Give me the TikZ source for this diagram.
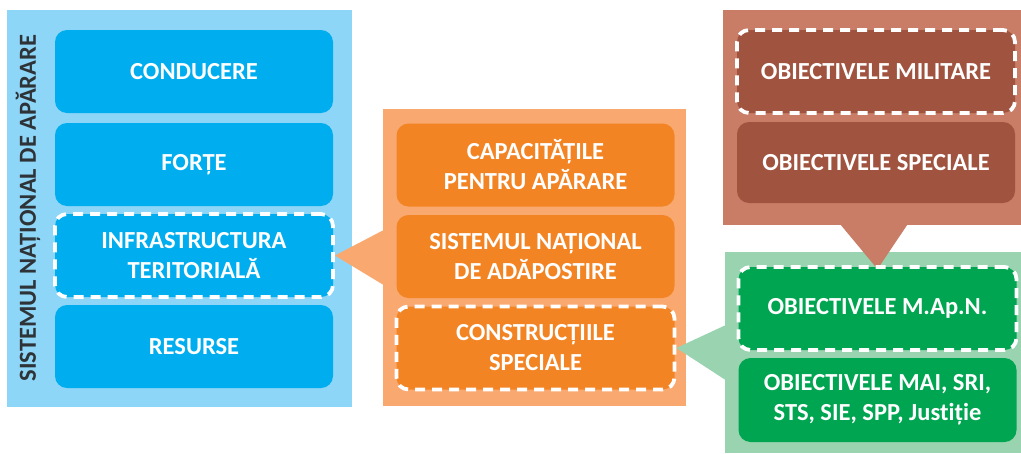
\documentclass[tikz,border=0pt]{standalone}
\usepackage{fontspec}
\setmainfont[Ligatures=NoCommon]{Carlito}
\usetikzlibrary{backgrounds}
\definecolor{bluepanel}{HTML}{8ED6F7}
\definecolor{bluebox}{HTML}{00AEEF}
\definecolor{orangepanel}{HTML}{F9A870}
\definecolor{orangebox}{HTML}{F38424}
\definecolor{brownpanel}{HTML}{C97D67}
\definecolor{brownbox}{HTML}{A0533F}
\definecolor{greenpanel}{HTML}{9AD3AF}
\definecolor{greenbox}{HTML}{00A551}
\definecolor{titlegray}{HTML}{2E3338}
\tikzset{
  panel/.style={rectangle, inner sep=0pt, fill=#1},
  box/.style={rectangle, rounded corners=12pt, fill=#1, text=white, align=center,
    minimum width=278pt, minimum height=83pt, inner sep=0pt,
    font=\fontsize{24.5}{30}\selectfont\bfseries},
  dashbox/.style={box=#1, draw=white, line width=3.8pt, dash pattern=on 10pt off 7pt}
}

\begin{document}
\begin{tikzpicture}[x=1pt,y=-1pt,line join=round]
  \useasboundingbox (0,0) rectangle (1021,453);
  % boxes
  \node[box=bluebox] (conducere) at (194,71.5) {CONDUCERE};
  \node[box=bluebox] (forte) at (194,164.5) {FORȚE};
  \node[dashbox=bluebox] (infrateritoriala) at (194,255.5) {INFRASTRUCTURA\\TERITORIALĂ};
  \node[box=bluebox] (resurse) at (194,346.5) {RESURSE};

  \node[box=orangebox] (capacitati) at (535.5,165) {CAPACITĂȚILE\\PENTRU APĂRARE};
  \node[box=orangebox] (adapostire) at (535.5,256.5) {SISTEMUL NAȚIONAL\\DE ADĂPOSTIRE};
  \node[dashbox=orangebox] (constrspeciale) at (535.5,348) {CONSTRUCȚIILE\\SPECIALE};

  \node[dashbox=brownbox] (militare) at (876,71.5) {OBIECTIVELE MILITARE};
  \node[box=brownbox, minimum height=81pt] (speciale) at (876,162.5) {OBIECTIVELE SPECIALE};

  \node[dashbox=greenbox] (mapn) at (877.5,308.5) {OBIECTIVELE M.Ap.N.};
  \node[box=greenbox, minimum height=84pt] (mai) at (877.5,400) {OBIECTIVELE MAI, SRI,\\STS, SIE, SPP, Justiție};
  % title
  \node[rotate=90, text=titlegray, font=\fontsize{24.5}{28}\selectfont\bfseries] (snatitle) at (28,208) {SISTEMUL NAȚIONAL DE APĂRARE};
  % panels and pointers
  \begin{scope}[on background layer]
    \node[panel=bluepanel, minimum width=345pt, minimum height=397pt] (sna) at (179.5,208.5) {};
    \node[panel=orangepanel, minimum width=303pt, minimum height=297pt] (infra) at (534.5,257.5) {};
    \node[panel=brownpanel, minimum width=298pt, minimum height=215pt] (obiective) at (872,117.5) {};
    \node[panel=greenpanel, minimum width=296pt, minimum height=201pt] (constr) at (873,352.5) {};
    \fill[orangepanel] (infrateritoriala.east) -- ([yshift=27pt]infra.west) -- ([yshift=-27pt]infra.west) -- cycle;
    \fill[greenpanel] (constrspeciale.east) -- ([yshift=27pt]constr.west) -- ([yshift=-27pt]constr.west) -- cycle;
    \fill[brownpanel] ([yshift=-4pt]mapn.north) -- ([xshift=-31pt]obiective.south) -- ([xshift=35pt]obiective.south) -- cycle;
  \end{scope}
\end{tikzpicture}
\end{document}
